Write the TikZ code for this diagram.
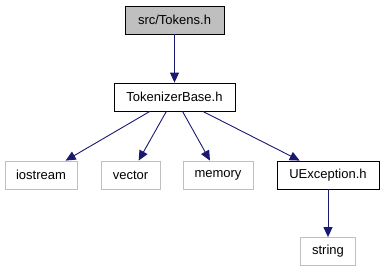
\documentclass[tikz,border=0pt]{standalone}
\usepackage{fontspec}
\setmainfont{Liberation Sans}
\usetikzlibrary{arrows.meta}
\definecolor{edgeblue}{HTML}{191970}
\definecolor{sysgray}{HTML}{BFBFBF}

\begin{document}
\begin{tikzpicture}[x=1pt, y=-1pt,
    file/.style={draw=black, line width=0.8pt, fill=white, inner sep=0pt,
                 font=\fontsize{13}{15}\selectfont, minimum height=28pt},
    sys/.style={file, draw=sysgray},
    dep/.style={-{Triangle[length=10pt,width=9pt]}, edgeblue, line width=0.9pt}]
  \useasboundingbox (0,0) rectangle (384,272);
  \node[file, fill=sysgray, minimum width=99pt] (tokens) at (174.5,20)  {src/Tokens.h};
  \node[file, minimum width=121pt] (base) at (174.5,97) {TokenizerBase.h};
  \node[sys, minimum width=72pt]   (iostream) at (41,175)   {iostream};
  \node[sys, minimum width=59pt]   (vector)   at (130.5,175) {vector};
  \node[sys, minimum width=70pt]   (memory)   at (218,175)  {memory};
  \node[file, minimum width=102pt] (uexc)     at (328,175)  {UException.h};
  \node[sys, minimum width=55pt]   (string)   at (328,251.5) {string};
  \draw[dep] (tokens) -- (base);
  \draw[dep] (base) -- (iostream);
  \draw[dep] (base) -- (vector);
  \draw[dep] (base) -- (memory);
  \draw[dep] (base) -- (uexc);
  \draw[dep] (uexc) -- (string);
\end{tikzpicture}
\end{document}
